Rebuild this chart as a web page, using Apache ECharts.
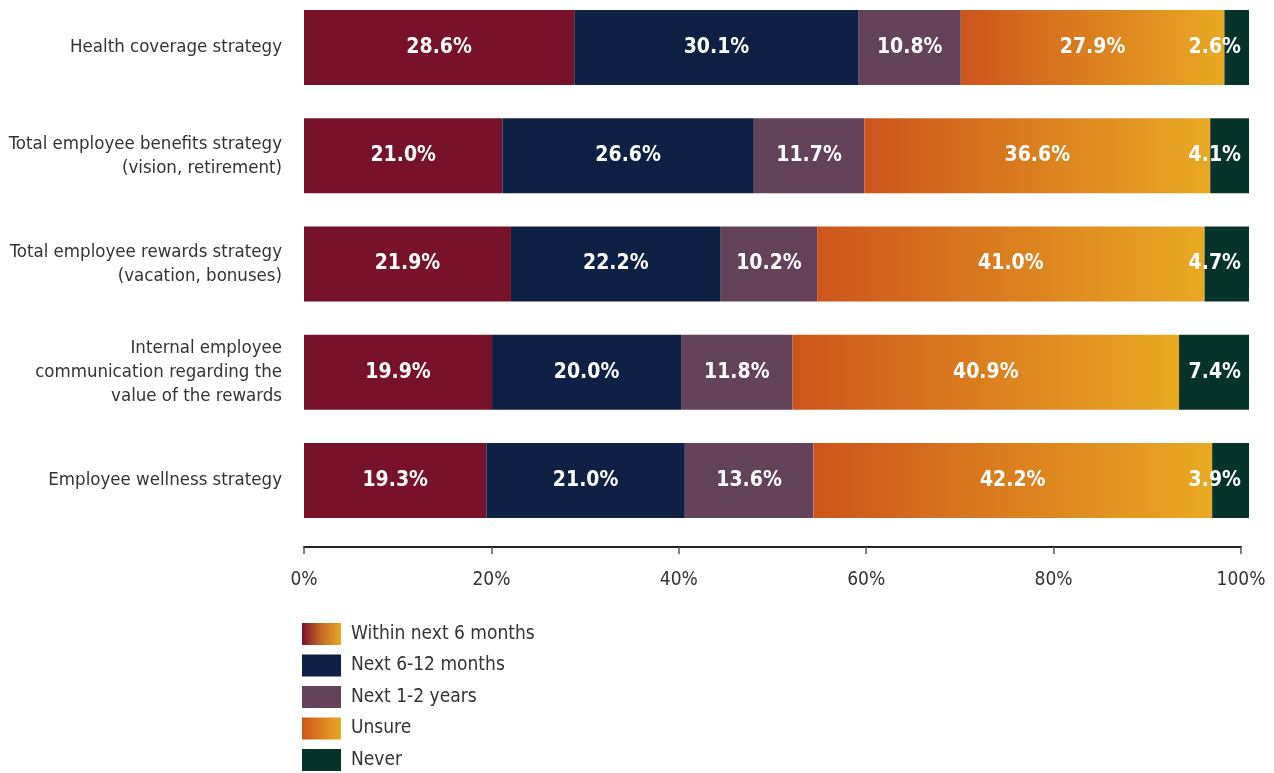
<!DOCTYPE html>
<html>
<head>
<meta charset="utf-8">
<script src="https://cdn.jsdelivr.net/npm/echarts@6/dist/echarts.min.js"></script>
<style>
  html, body { margin: 0; padding: 0; background: #ffffff; }
  #chart { width: 1274px; height: 773px; }
</style>
</head>
<body>
<div id="chart"></div>
<script>
// Timing of planned changes, share of respondents per strategy area
const categories = [
  'Health coverage strategy',
  'Total employee benefits strategy\n(vision, retirement)',
  'Total employee rewards strategy\n(vacation, bonuses)',
  'Internal employee\ncommunication regarding the\nvalue of the rewards',
  'Employee wellness strategy'
];
const seriesNames = ['Within next 6 months', 'Next 6-12 months', 'Next 1-2 years', 'Unsure', 'Never'];
const within6Months = [28.6, 21.0, 21.9, 19.9, 19.3];
const next6to12Months = [30.1, 26.6, 22.2, 20.0, 21.0];
const next1to2Years = [10.8, 11.7, 10.2, 11.8, 13.6];
const unsure = [27.9, 36.6, 41.0, 40.9, 42.2];
const never = [2.6, 4.1, 4.7, 7.4, 3.9];
const tickValues = [0, 20, 40, 60, 80, 100];

const FONT = '"DejaVu Sans Condensed", "Liberation Sans Narrow", "Roboto", sans-serif';

const orangeGrad = () => new echarts.graphic.LinearGradient(0, 0, 1, 0, [
  { offset: 0, color: '#cd551c' },
  { offset: 1, color: '#e9a922' }
]);
const maroonGrad = () => new echarts.graphic.LinearGradient(0, 0, 1, 0, [
  { offset: 0, color: '#7a1128' },
  { offset: 0.45, color: '#c0632a' },
  { offset: 1, color: '#e9a922' }
]);

const colors = ['#78112a', '#0e2043', '#644259', null, '#06342a'];
const valueSets = [within6Months, next6to12Months, next1to2Years, unsure, never];

const labelStyle = {
  show: true,
  color: '#ffffff',
  fontFamily: FONT,
  fontWeight: 'bold',
  fontSize: 21,
  formatter: p => p.value.toFixed(1) + '%'
};

const barSeries = seriesNames.map((name, i) => ({
  name: name,
  type: 'bar',
  stack: 'total',
  xAxisIndex: 0,
  yAxisIndex: 0,
  barWidth: 75,
  data: valueSets[i],
  itemStyle: { color: i === 3 ? orangeGrad() : colors[i] },
  label: Object.assign({}, labelStyle, i === 4
    ? { position: 'insideRight', distance: 8 }
    : { position: 'inside' }),
  emphasis: { disabled: true }
}));

const option = {
  animation: false,
  backgroundColor: '#ffffff',
  grid: [
    // category ticks sit on the bar centres (boundaryGap off)
    { left: 304, right: 25, top: 47.5, height: 433 },
    { left: 304, right: 33, top: 540, height: 7 }
  ],
  xAxis: [
    { gridIndex: 0, type: 'value', min: 0, max: 100, show: false },
    {
      gridIndex: 1, type: 'value', min: 0, max: 100, interval: 20,
      axisLine: { show: true, lineStyle: { color: '#222222', width: 2 } },
      axisTick: { show: true, length: 7, lineStyle: { color: '#555555', width: 1.5 } },
      axisLabel: {
        color: '#333333', fontFamily: FONT, fontSize: 19, margin: 24,
        formatter: v => tickValues.includes(v) ? v + '%' : ''
      },
      splitLine: { show: false }
    }
  ],
  yAxis: [
    {
      gridIndex: 0, type: 'category', data: categories, inverse: true, boundaryGap: false,
      axisLine: { show: false }, axisTick: { show: false }, splitLine: { show: false },
      axisLabel: {
        color: '#333333', fontFamily: FONT, fontSize: 18.5, margin: 22,
        align: 'right', lineHeight: 24
      }
    },
    { gridIndex: 1, type: 'category', data: [''], show: false }
  ],
  legend: {
    orient: 'vertical',
    left: 302,
    top: 623,
    padding: 0,
    itemWidth: 39,
    itemHeight: 22,
    itemGap: 9.5,
    icon: 'rect',
    textStyle: { color: '#333333', fontFamily: FONT, fontSize: 19, padding: [0, 0, 0, 5] },
    data: seriesNames.map((n, i) => ({
      name: n,
      itemStyle: { color: i === 0 ? maroonGrad() : (i === 3 ? orangeGrad() : colors[i]) }
    }))
  },
  series: barSeries.concat([
    { name: 'axis', type: 'bar', xAxisIndex: 1, yAxisIndex: 1, data: [], silent: true }
  ])
};

const chart = echarts.init(document.getElementById('chart'), null, { renderer: 'canvas' });
chart.setOption(option);
</script>
</body>
</html>
